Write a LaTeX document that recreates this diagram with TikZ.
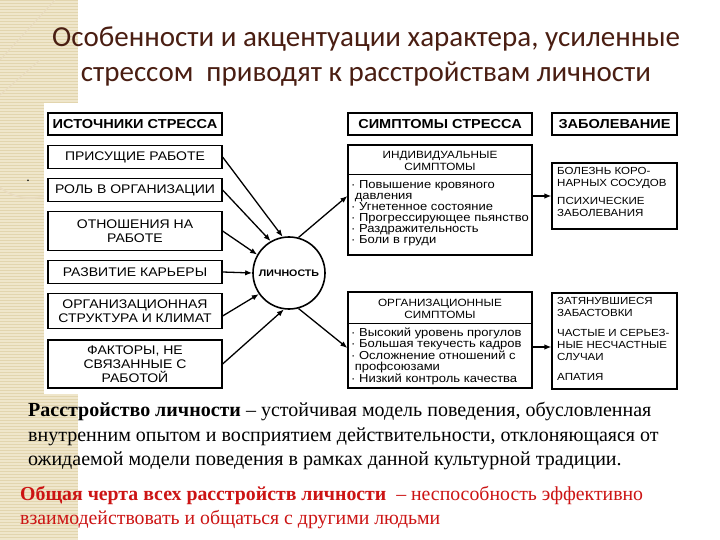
\documentclass[tikz,border=0pt]{standalone}
\usepackage{fontspec}
\setmainfont{Liberation Serif}
\newfontfamily\titlefont{Carlito}
\newfontfamily\boxfont[FakeStretch=1.12]{Liberation Sans}
\usetikzlibrary{arrows.meta}
\definecolor{titlec}{HTML}{4A1E12}
\definecolor{beige}{HTML}{EFE6CB}
\definecolor{beigeline}{HTML}{E2D5AE}
\definecolor{redc}{HTML}{CC1414}
\tikzset{
  lbox/.style={draw, line width=1.2pt, inner sep=0pt, minimum width=174pt, align=center, font=\boxfont\fontsize{12.5}{14}\selectfont},
  hbox/.style={draw, line width=1.6pt, inner sep=0pt, minimum height=22pt, align=center, font=\boxfont\bfseries\fontsize{13}{14}\selectfont},
  mbox/.style={draw, line width=1.2pt, inner sep=0pt, minimum width=184pt},
  rbox/.style={draw, line width=1.2pt, inner sep=0pt, minimum width=125pt},
  hdr/.style={align=center, inner sep=0pt, font=\boxfont\fontsize{10.5}{11.3}\selectfont},
  lst/.style={align=left, inner sep=0pt, anchor=north west, font=\boxfont\fontsize{11.6}{11}\selectfont},
  rtxt/.style={align=left, inner sep=0pt, anchor=north west, font=\boxfont\fontsize{10.3}{12}\selectfont},
  arr/.style={line width=1.3pt, -{Latex[length=7pt,width=5.5pt]}},
  circ/.style={draw, line width=1.6pt, circle, minimum size=72pt, inner sep=0pt, font=\boxfont\bfseries\fontsize{9.5}{11}\selectfont}
}
\begin{document}
\begin{tikzpicture}[x=1pt,y=-1pt]
\useasboundingbox (0,0) rectangle (720,540);
\fill[white] (0,0) rectangle (720,540);
% decorative strip
\fill[beige] (0,0) rectangle (78,540);
\foreach \i in {0,3,...,540} \draw[beigeline, line width=0.6pt] (0,\i) -- (78,\i);
\draw[beigeline!80!brown!60, line width=1.5pt] (78,150) arc[start angle=0, end angle=200, radius=48];
\draw[beigeline!80!brown!60, line width=1pt] (0,95) -- (40,60) (0,60) -- (55,0);
% diagram background
\fill[white] (44,103) rectangle (690,394);
% title
\node[font=\titlefont\fontsize{29}{35}\selectfont, text=titlec, align=center] (title) at (366,57)
  {Особенности и акцентуации характера, усиленные\\стрессом\ \ приводят к расстройствам личности};
\node[font=\fontsize{14}{14}\selectfont] (dot) at (28,181) {.};
% left column
\node[hbox, minimum width=174pt] (src) at (135,124) {ИСТОЧНИКИ СТРЕССА};
\node[lbox, minimum height=23pt] (b1) at (135,157) {ПРИСУЩИЕ РАБОТЕ};
\node[lbox, minimum height=23pt] (b2) at (135,190) {РОЛЬ В ОРГАНИЗАЦИИ};
\node[lbox, minimum height=39pt] (b3) at (135,231) {ОТНОШЕНИЯ НА\\РАБОТЕ};
\node[lbox, minimum height=23pt] (b4) at (135,272) {РАЗВИТИЕ КАРЬЕРЫ};
\node[lbox, minimum height=35pt] (b5) at (135,311) {ОРГАНИЗАЦИОННАЯ\\СТРУКТУРА И КЛИМАТ};
\node[lbox, minimum height=48pt, font=\boxfont\fontsize{12.5}{14}\selectfont] (b6) at (135,364) {ФАКТОРЫ, НЕ\\СВЯЗАННЫЕ С\\РАБОТОЙ};
% person
\node[circ] (p) at (289,273) {ЛИЧНОСТЬ};
% middle column
\node[hbox, minimum width=184pt] (sym) at (440,124) {СИМПТОМЫ СТРЕССА};
\node[mbox, minimum height=110pt] (ind) at (440,200) {};
\coordinate (s1) at (0,175);
\draw[line width=1pt] (ind.west |- s1) -- (ind.east |- s1);
\node[hdr] (indh) at (440,161) {ИНДИВИДУАЛЬНЫЕ\\СИМПТОМЫ};
\node[lst] (indl) at (351,180) {·\ Повышение кровяного\\\ давления\\·\ Угнетенное состояние\\·\ Прогрессирующее пьянство\\·\ Раздражительность\\·\ Боли в груди};
\node[mbox, minimum height=96pt] (org) at (440,340) {};
\coordinate (s2) at (0,323);
\draw[line width=1pt] (org.west |- s2) -- (org.east |- s2);
\node[hdr] (orgh) at (440,309) {ОРГАНИЗАЦИОННЫЕ\\СИМПТОМЫ};
\node[lst] (orgl) at (351,328) {·\ Высокий уровень прогулов\\·\ Большая текучесть кадров\\·\ Осложнение отношений с\\\ профсоюзами\\·\ Низкий контроль качества};
% right column
\node[hbox, minimum width=125pt] (zab) at (614.5,124) {ЗАБОЛЕВАНИЕ};
\node[rbox, minimum height=66pt] (bol) at (614.5,196) {};
\node[rtxt] (bolt) at (557,167) {БОЛЕЗНЬ КОРО-\\НАРНЫХ СОСУДОВ\\[6pt]ПСИХИЧЕСКИЕ\\ЗАБОЛЕВАНИЯ};
\node[rbox, minimum height=96pt] (zat) at (614.5,341) {};
\node[rtxt] (zatt) at (557,297) {ЗАТЯНУВШИЕСЯ\\ЗАБАСТОВКИ\\[8pt]ЧАСТЫЕ И СЕРЬЕЗ-\\НЫЕ НЕСЧАСТНЫЕ\\СЛУЧАИ\\[8pt]АПАТИЯ};
% arrows in
\draw[arr] (b1.east) -- (p.100);
\draw[arr] (b2.east) -- (p.120);
\draw[arr] (b3.east) -- (p.150);
\draw[arr] (b4.east) -- (p.west);
\draw[arr] ([yshift=-5pt]b5.east) -- (p.215);
\draw[arr] (b6.east) -- (p.262);
% arrows out
\draw[arr] (p.75) -- ([yshift=4pt]ind.west);
\draw[arr] (p.-75) -- ([yshift=-8pt]org.west);
\draw[arr] ([yshift=4pt]ind.east) -- ([yshift=4pt]ind.east -| bol.west);
\draw[arr] ([yshift=-7pt]org.east) -- ([yshift=-7pt]org.east -| zat.west);
% bottom text
\node[anchor=west, font=\fontsize{20}{24.5}\selectfont, align=left, inner sep=0pt] (def) at (28,436)
  {\textbf{Расстройство личности} – устойчивая модель поведения, обусловленная\\внутренним опытом и восприятием действительности, отклоняющаяся от\\ожидаемой модели поведения в рамках данной культурной традиции.};
\node[anchor=west, font=\fontsize{19.8}{24}\selectfont, align=left, inner sep=0pt, text=redc] (com) at (20,508)
  {\textbf{Общая черта всех расстройств личности}\ \ – неспособность эффективно\\взаимодействовать и общаться с другими людьми};
\end{tikzpicture}
\end{document}
